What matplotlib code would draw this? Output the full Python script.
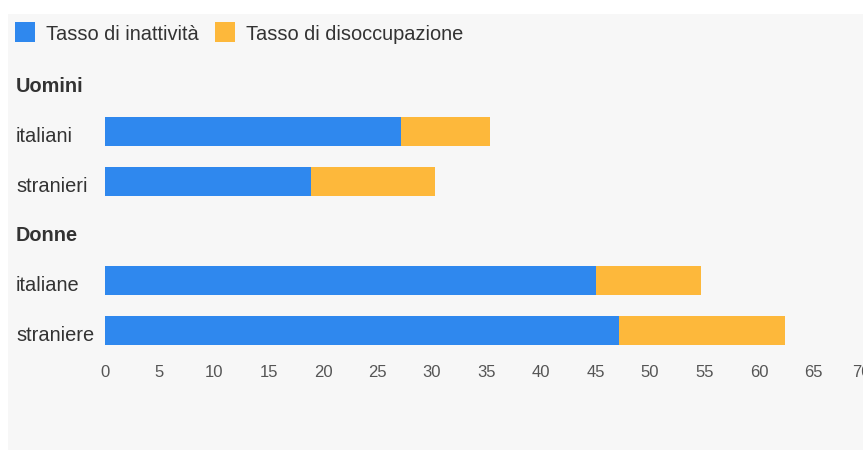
import matplotlib.pyplot as plt
from matplotlib.patches import Rectangle
from matplotlib.transforms import blended_transform_factory, ScaledTranslation

plt.rcParams['font.family'] = ['Liberation Sans', 'DejaVu Sans']

# rows top to bottom: group headers and categories
groups = ["Uomini", "Donne"]
categories = [["italiani", "stranieri"], ["italiane", "straniere"]]
inattivita = [[27.2, 18.9], [45.0, 47.2]]
disoccupazione = [[8.1, 11.4], [9.7, 15.2]]
series_names = ["Tasso di inattività", "Tasso di disoccupazione"]
colors = ["#2f88ee", "#fdb83b"]
ticks = list(range(0, 75, 5))

W, H = 863, 450
fig = plt.figure(figsize=(W / 100, H / 100), dpi=100, facecolor="white")

# grey panel behind everything
fig.patches.append(Rectangle((8 / W, 0), 1, 1 - 14 / H, transform=fig.transFigure,
                             facecolor="#f7f7f7", edgecolor="none", zorder=-10))

ax = fig.add_axes([105 / W, 1 - 355 / H, 763 / W, (355 - 57) / H])
ax.set_facecolor("none")

# row labels sit on a baseline ~10.5px under the row centre
label_tf = (blended_transform_factory(fig.transFigure, ax.transData)
            + ScaledTranslation(0, -0.105, fig.dpi_scale_trans))

row = 0
for g, name in enumerate(groups):
    ax.text(16 / W, row, name, transform=label_tf, ha="left", va="baseline",
            fontsize=14.3, fontweight="bold", color="#333333")
    row += 1
    for c, cat in enumerate(categories[g]):
        a = inattivita[g][c]
        d = disoccupazione[g][c]
        ax.barh(row, a, height=0.58, color=colors[0])
        ax.barh(row, d, left=a, height=0.58, color=colors[1])
        ax.text(16 / W, row, cat, transform=label_tf, ha="left", va="baseline",
                fontsize=14.4, color="#333333")
        row += 1

ax.set_ylim(row - 0.5, -0.5)
ax.set_xlim(0, 70)
ax.set_xticks(ticks)
ax.tick_params(axis="x", length=0, pad=7, labelsize=12, labelcolor="#555555")
ax.set_yticks([])
for s in ax.spines.values():
    s.set_visible(False)

# last tick label is pulled back towards the panel edge
last = ax.get_xticklabels()[-1]
last.set_transform(last.get_transform() + ScaledTranslation(-0.07, 0, fig.dpi_scale_trans))

# legend along the top
lx = [15, 215]
for i, name in enumerate(series_names):
    fig.patches.append(Rectangle((lx[i] / W, 1 - 42 / H), 20 / W, 20 / H,
                                 transform=fig.transFigure, facecolor=colors[i],
                                 edgecolor="none"))
    fig.text((lx[i] + 31) / W, 1 - 39.5 / H, name, ha="left", va="baseline",
             fontsize=14.4, color="#333333")

fig.savefig("out.png", dpi=100, facecolor="white")
